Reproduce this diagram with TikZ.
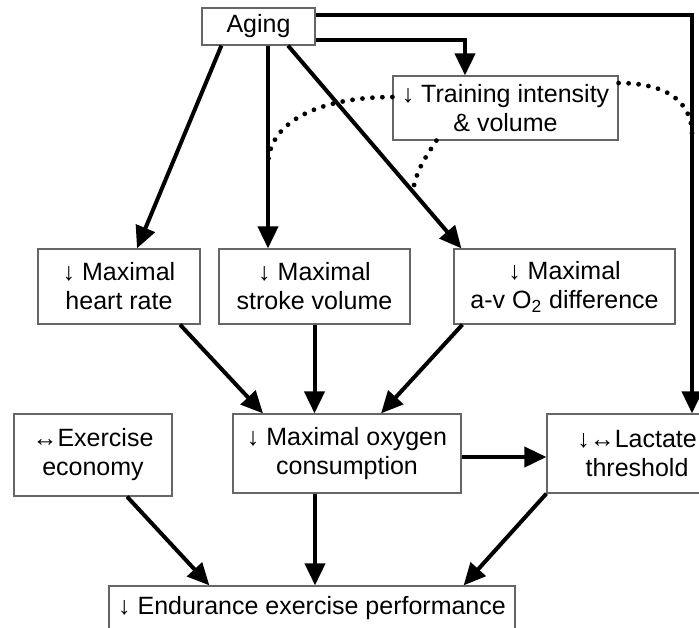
\documentclass[tikz,border=0pt]{standalone}
\usepackage{fontspec}
\setmainfont{Liberation Sans}
\usetikzlibrary{arrows.meta,positioning,calc}

\begin{document}
\begin{tikzpicture}[x=0.5pt,y=-0.5pt,
  box/.style={draw=black!60,line width=0.6pt,align=center,inner sep=0pt,
    font=\fontsize{12.5}{14.5}\selectfont},
  flow/.style={line width=2pt,-{Triangle[length=11pt,width=10pt]}},
  effect/.style={line width=2.4pt,line cap=round,dash pattern=on 0pt off 5pt}]
  \useasboundingbox (0,0) rectangle (699,627);

  % boxes
  \node[box,minimum width=56.5pt,minimum height=18.5pt] (aging) at (258.5,26.5) {Aging};
  \node[box,minimum width=112.5pt,minimum height=32pt] (training) at (505.5,108) {↓ Training intensity\\ \& volume};
  \node[box,minimum width=81pt,minimum height=37.5pt] (heart) at (119,286.5) {↓ Maximal\\ heart rate};
  \node[box,minimum width=95.5pt,minimum height=37.5pt] (stroke) at (314.5,286.5) {↓ Maximal\\ stroke volume};
  \node[box,minimum width=110.5pt,minimum height=37.5pt] (avdiff) at (564.5,286.5) {↓ Maximal\\ a-v O\textsubscript{2} difference};
  \node[box,minimum width=79pt,minimum height=41pt] (economy) at (93,455) {↔Exercise\\ economy};
  \node[box,minimum width=114pt,minimum height=39.5pt] (vo2max) at (347,453.5) {↓ Maximal oxygen\\ consumption};
  \node[box,minimum width=90pt,minimum height=39.5pt] (lactate) at (637,453.5) {↓↔Lactate\\ threshold};
  \node[box,minimum width=203pt,minimum height=22pt] (endurance) at (312,608) {↓ Endurance exercise performance};

  % effects of aging
  \draw[flow] ($(aging.south west)+(20,0)$) -- ($(heart.north)+(18,0)$);
  \draw[flow] ($(aging.south)+(9.5,0)$) coordinate (sa) -- coordinate[pos=0.59] (sv) (sa |- stroke.north);
  \draw[flow] ($(aging.south)+(29.5,0)$) -- coordinate[pos=0.72] (av) ($(avdiff.north west)+(8,0)$);
  \draw[flow] ($(aging.east)+(0,13.5)$) -| ($(training.north)+(-40.5,0)$);
  \draw[flow] ($(aging.east)+(0,-11.5)$) -| coordinate[pos=0.65] (lt) ($(lactate.north)+(55,0)$);

  % training acts on the arrows
  \draw[effect] ($(training.west)+(0,-11)$) .. controls +(-70,0) and +(0,-45) .. (sv);
  \draw[effect] ($(training.south west)+(44,0)$) .. controls +(-12,18) and +(3,-20) .. (av);
  \draw[effect] ($(training.east)+(0,-25)$) .. controls +(45,0) and +(0,-35) .. (lt);

  % oxygen consumption
  \draw[flow] ($(heart.south)+(61,0)$) -- ($(vo2max.north)+(-84,0)$);
  \draw[flow] (stroke.south) -- (stroke.south |- vo2max.north);
  \draw[flow] ($(avdiff.south west)+(9,0)$) -- ($(vo2max.north)+(34,0)$);
  \draw[flow] ($(vo2max.east)+(0,3.5)$) -- ($(vo2max.east -| lactate.west)+(0,3.5)$);

  % performance
  \draw[flow] ($(economy.south)+(34,0)$) -- ($(endurance.north west)+(101,0)$);
  \draw[flow] ($(vo2max.south)+(-32,0)$) coordinate (vb) -- (vb |- endurance.north);
  \draw[flow] (lactate.south west) -- ($(endurance.north east)+(-52,0)$);
\end{tikzpicture}
\end{document}
